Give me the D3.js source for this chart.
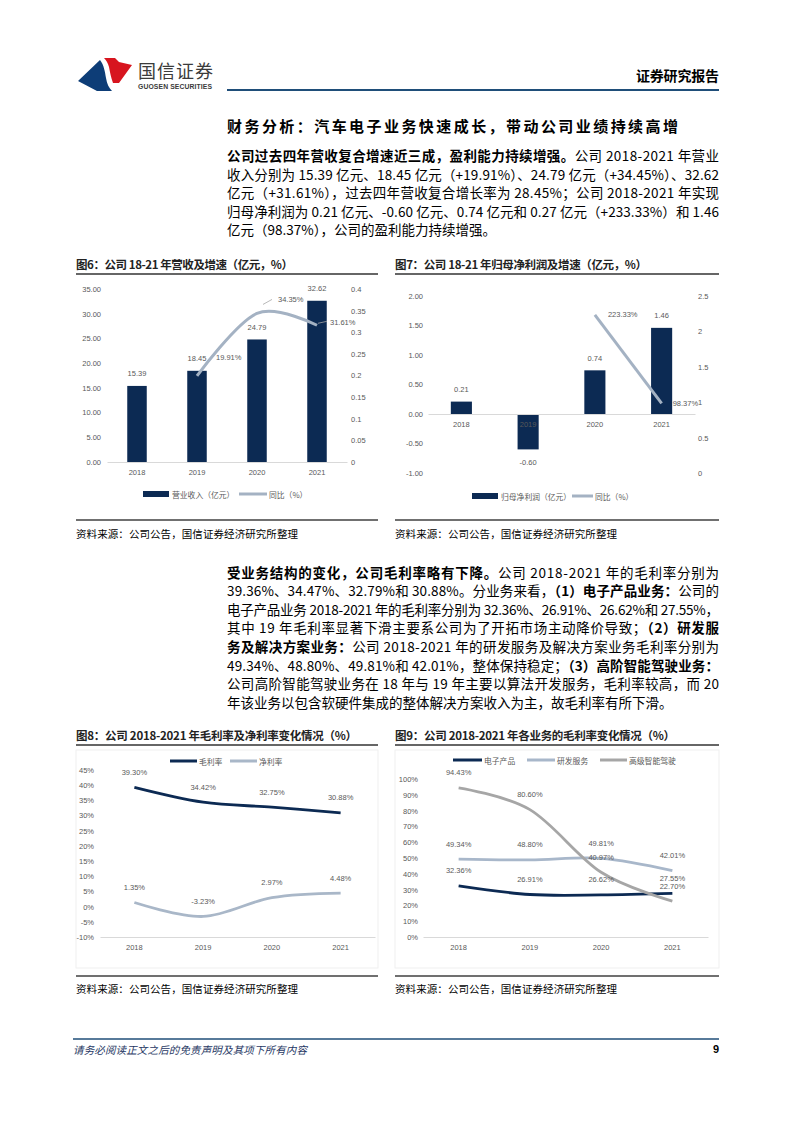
<!DOCTYPE html>
<html><head><meta charset="utf-8">
<script src="https://cdn.jsdelivr.net/npm/d3@7"></script>
<style>html,body{margin:0;padding:0;background:#fff}svg{display:block}</style>
</head><body>
<svg id="page" width="794" height="1123" xmlns="http://www.w3.org/2000/svg"></svg>
<script>
// ---------------- DATA ----------------
const years = ["2018", "2019", "2020", "2021"];
// Fig 6
const revenue = [15.39, 18.45, 24.79, 32.62];
const revenueYoY = [null, 0.1991, 0.3435, 0.3161];
const revenueYoYLabels = [null, "19.91%", "34.35%", "31.61%"];
const revTicksL = [0, 5, 10, 15, 20, 25, 30, 35];
const revTicksR = [0, 0.05, 0.1, 0.15, 0.2, 0.25, 0.3, 0.35, 0.4];
// Fig 7
const netProfit = [0.21, -0.60, 0.74, 1.46];
const netProfitYoY = [null, null, 2.2333, 0.9837];
const netProfitYoYLabels = [null, null, "223.33%", "98.37%"];
const npTicksL = [-1, -0.5, 0, 0.5, 1, 1.5, 2];
const npTicksR = [0, 0.5, 1, 1.5, 2, 2.5];
// Fig 8
const grossMargin = [39.30, 34.42, 32.75, 30.88];
const netMargin = [1.35, -3.23, 2.97, 4.48];
const marginTicks = [-10, -5, 0, 5, 10, 15, 20, 25, 30, 35, 40, 45];
// Fig 9
const segNames = ["电子产品", "研发服务", "高级智能驾驶"];
const segElectronic = [32.36, 26.91, 26.62, 27.55];
const segRD = [49.34, 48.80, 49.81, 42.01];
const segADAS = [94.43, 80.60, 40.97, 22.70];
const segTicks = [0, 10, 20, 30, 40, 50, 60, 70, 80, 90, 100];

// ---------------- STYLE ----------------
const CJK = "'Noto Sans CJK SC','Noto Sans',sans-serif";
const LAT = "'Liberation Sans',Arial,sans-serif";
const NAVY = "#0c2a53";
const GREYBLUE = "#a4b2c3";
const GREY = "#a6a6a6";
const LBL = "#595959";
const AXIS = "#d9d9d9";

const svg = d3.select("#page");

function txt(g, x, y, s, o = {}) {
  const t = g.append("text").attr("x", x).attr("y", y).text(s)
    .attr("dominant-baseline", "central")
    .attr("font-family", o.family || CJK)
    .attr("font-size", o.size || 12)
    .attr("fill", o.fill || "#000")
    .attr("text-anchor", o.anchor || "start");
  if (o.weight) t.attr("font-weight", o.weight);
  if (o.style) t.attr("font-style", o.style);
  if (o.len) t.attr("textLength", o.len).attr("lengthAdjust", "spacing");
  return t;
}
function hline(g, x1, x2, y, stroke, w) {
  g.append("line").attr("x1", x1).attr("x2", x2).attr("y1", y).attr("y2", y)
    .attr("stroke", stroke).attr("stroke-width", w);
}
function styleAxis(ax) {
  ax.attr("font-family", null).attr("font-size", null);
  ax.selectAll("text").attr("font-family", LAT).attr("font-size", 7.5).attr("fill", LBL);
}

// ---------------- HEADER ----------------
const hdr = svg.append("g");
hdr.append("path").attr("d", "M78,81 L100,60 C104,65 105,72 106,78 C107,84 109,88 112,91 L97,91 Z").attr("fill", "#0d3d77");
hdr.append("path").attr("d", "M104,58 L115,58 L119,62 L132,65 L119,83 L113,83 C111,78 110,72 109,67 C108,63 106,60 104,58 Z").attr("fill", "#d7151f");
txt(hdr, 138, 70, "国信证券", { size: 18, fill: "#3b3b3b", len: 75 });
txt(hdr, 138, 86, "GUOSEN SECURITIES", { family: LAT, size: 6.8, weight: 700, fill: "#3b3b3b", len: 74 });
hline(hdr, 227, 719, 90, "#1f4e79", 2);
txt(hdr, 719, 75, "证券研究报告", { size: 14, weight: 700, anchor: "end", len: 83 });

// ---------------- SECTION TITLE & PARAGRAPHS ----------------
txt(svg, 227, 125, "财务分析：汽车电子业务快速成长，带动公司业绩持续高增", { size: 15, weight: 700, len: 451 });

function paragraph(lines, y0, step) {
  lines.forEach((segs, i) => {
    const t = svg.append("text").attr("x", 227).attr("y", y0 + i * step)
      .attr("dominant-baseline", "central").attr("font-family", CJK)
      .attr("font-size", 13.5).attr("fill", "#000");
    segs.forEach(s => {
      const ts = t.append("tspan").text(s[0]);
      if (s[1]) ts.attr("font-weight", 700);
    });
    if (i < lines.length - 1) t.attr("textLength", 492).attr("lengthAdjust", "spacing");
  });
}
paragraph([
  [["公司过去四年营收复合增速近三成，盈利能力持续增强。", 1], ["公司 2018-2021 年营业", 0]],
  [["收入分别为 15.39 亿元、18.45 亿元（+19.91%）、24.79 亿元（+34.45%）、32.62", 0]],
  [["亿元（+31.61%），过去四年营收复合增长率为 28.45%；公司 2018-2021 年实现", 0]],
  [["归母净利润为 0.21 亿元、-0.60 亿元、0.74 亿元和 0.27 亿元（+233.33%）和 1.46", 0]],
  [["亿元（98.37%），公司的盈利能力持续增强。", 0]]
], 155, 18.6);

paragraph([
  [["受业务结构的变化，公司毛利率略有下降。", 1], ["公司 2018-2021 年的毛利率分别为", 0]],
  [["39.36%、34.47%、32.79%和 30.88%。分业务来看，", 0], ["（1）电子产品业务：", 1], ["公司的", 0]],
  [["电子产品业务 2018-2021 年的毛利率分别为 32.36%、26.91%、26.62%和 27.55%，", 0]],
  [["其中 19 年毛利率显著下滑主要系公司为了开拓市场主动降价导致；", 0], ["（2）研发服", 1]],
  [["务及解决方案业务：", 1], ["公司 2018-2021 年的研发服务及解决方案业务毛利率分别为", 0]],
  [["49.34%、48.80%、49.81%和 42.01%，整体保持稳定；", 0], ["（3）高阶智能驾驶业务：", 1]],
  [["公司高阶智能驾驶业务在 18 年与 19 年主要以算法开发服务，毛利率较高，而 20", 0]],
  [["年该业务以包含软硬件集成的整体解决方案收入为主，故毛利率有所下滑。", 0]]
], 571.5, 18.6);

// ---------------- CHART FRAME (title + source) ----------------
function frame(x1, x2, title, titleLen, yTitle, yBottom, ySource) {
  txt(svg, x1, yTitle, title, { size: 11.5, weight: 700, fill: "#222", len: titleLen });
  hline(svg, x1, x2, yTitle + 10, "#333", 1.3);
  hline(svg, x1, x2, yBottom, "#404040", 1.5);
  txt(svg, x1, ySource, "资料来源：公司公告，国信证券经济研究所整理", { size: 10.5, len: 222 });
}
frame(76, 378, "图6：公司 18-21 年营收及增速（亿元，%）", 217, 264, 520, 533);
frame(395, 719, "图7：公司 18-21 年归母净利润及增速（亿元，%）", 252, 264, 520, 533);
frame(76, 378, "图8：公司 2018-2021 年毛利率及净利率变化情况（%）", 281, 735, 976, 988);
frame(395, 719, "图9：公司 2018-2021 年各业务的毛利率变化情况（%）", 280, 735, 976, 988);

function legendRect(g, x, y, label) {
  g.append("rect").attr("x", x).attr("y", y - 3).attr("width", 26).attr("height", 6).attr("fill", NAVY);
  txt(g, x + 29, y, label, { size: 7.8, fill: LBL });
}
function legendLine(g, x, y, w, color, label) {
  g.append("line").attr("x1", x).attr("x2", x + w).attr("y1", y).attr("y2", y)
    .attr("stroke", color).attr("stroke-width", 3);
  txt(g, x + w + 2, y, label, { size: 7.8, fill: LBL });
}
const pctFmt = v => v.toFixed(2) + "%";
const numFmt = v => v.toFixed(2);

// ---------------- FIG 6 ----------------
(function () {
  const g = svg.append("g");
  const x = d3.scaleBand().domain(years).range([107, 347]).paddingInner(0.675).paddingOuter(0.3375);
  const yL = d3.scaleLinear().domain([0, 35]).range([462, 289]);
  const yR = d3.scaleLinear().domain([0, 0.4]).range([462, 289]);
  const cx = d => x(d) + x.bandwidth() / 2;

  const axL = g.append("g").attr("transform", "translate(107,0)")
    .call(d3.axisLeft(yL).tickValues(revTicksL).tickSize(0).tickPadding(6).tickFormat(numFmt));
  axL.select(".domain").remove(); styleAxis(axL);
  const axR = g.append("g").attr("transform", "translate(347,0)")
    .call(d3.axisRight(yR).tickValues(revTicksR).tickSize(0).tickPadding(4).tickFormat(d => String(+d.toFixed(2))));
  axR.select(".domain").remove(); styleAxis(axR);

  g.selectAll(".bar").data(revenue).join("rect")
    .attr("x", (d, i) => x(years[i])).attr("width", x.bandwidth())
    .attr("y", d => yL(d)).attr("height", d => yL(0) - yL(d)).attr("fill", NAVY);

  const axB = g.append("g").attr("transform", "translate(0,462)")
    .call(d3.axisBottom(x).tickSize(0).tickSizeOuter(0));
  axB.select(".domain").attr("stroke", AXIS).attr("stroke-width", 1);
  styleAxis(axB);
  axB.selectAll("text").attr("y", 10).attr("dy", "0.35em");

  g.selectAll(".bl").data(revenue).join("text")
    .attr("x", (d, i) => cx(years[i])).attr("y", d => yL(d) - 12)
    .attr("text-anchor", "middle").attr("dominant-baseline", "central")
    .attr("font-family", LAT).attr("font-size", 7.5).attr("fill", LBL).text(numFmt);

  const pts = years.map((yr, i) => [cx(yr), revenueYoY[i]]).filter(p => p[1] != null);
  g.append("path").attr("d", d3.line().x(p => p[0]).y(p => yR(p[1])).curve(d3.curveCardinal)(pts))
    .attr("fill", "none").attr("stroke", GREYBLUE).attr("stroke-width", 3);

  const lay = [null, { dx: 19, dy: -18 }, { dx: 21, dy: -14, ld: [6, -9, 15, -14] }, { dx: 13, dy: -3, ld: [1, -2, 10, -4] }];
  years.forEach((yr, i) => {
    if (revenueYoY[i] == null) return;
    const px = cx(yr), py = yR(revenueYoY[i]), L = lay[i];
    if (L.ld) g.append("line").attr("x1", px + L.ld[0]).attr("y1", py + L.ld[1]).attr("x2", px + L.ld[2]).attr("y2", py + L.ld[3])
      .attr("stroke", "#a6a6a6").attr("stroke-width", 0.8);
    txt(g, px + L.dx, py + L.dy, revenueYoYLabels[i], { family: LAT, size: 7.5, fill: LBL });
  });

  legendRect(g, 143, 494, "营业收入（亿元）");
  legendLine(g, 239, 494, 28, GREYBLUE, "同比（%）");
})();

// ---------------- FIG 7 ----------------
(function () {
  const g = svg.append("g");
  const x = d3.scaleBand().domain(years).range([428, 695]).paddingInner(0.684).paddingOuter(0.342);
  const yL = d3.scaleLinear().domain([-1, 2]).range([473, 296]);
  const yR = d3.scaleLinear().domain([0, 2.5]).range([473, 296]);
  const cx = d => x(d) + x.bandwidth() / 2;

  const axL = g.append("g").attr("transform", "translate(428,0)")
    .call(d3.axisLeft(yL).tickValues(npTicksL).tickSize(0).tickPadding(5).tickFormat(numFmt));
  axL.select(".domain").remove(); styleAxis(axL);
  const axR = g.append("g").attr("transform", "translate(695,0)")
    .call(d3.axisRight(yR).tickValues(npTicksR).tickSize(0).tickPadding(3).tickFormat(d => String(d)));
  axR.select(".domain").remove(); styleAxis(axR);

  g.selectAll(".bar").data(netProfit).join("rect")
    .attr("x", (d, i) => x(years[i])).attr("width", x.bandwidth())
    .attr("y", d => yL(Math.max(0, d))).attr("height", d => Math.abs(yL(d) - yL(0))).attr("fill", NAVY);

  const axB = g.append("g").attr("transform", `translate(0,${yL(0)})`)
    .call(d3.axisBottom(x).tickSize(0).tickSizeOuter(0));
  axB.select(".domain").attr("stroke", AXIS).attr("stroke-width", 1);
  styleAxis(axB);
  axB.selectAll("text").attr("y", 10).attr("dy", "0.35em");

  g.selectAll(".bl").data(netProfit).join("text")
    .attr("x", (d, i) => cx(years[i])).attr("y", d => d >= 0 ? yL(d) - 12 : yL(d) + 13)
    .attr("text-anchor", "middle").attr("dominant-baseline", "central")
    .attr("font-family", LAT).attr("font-size", 7.5).attr("fill", LBL).text(numFmt);

  const pts = years.map((yr, i) => [cx(yr), netProfitYoY[i]]).filter(p => p[1] != null);
  g.append("path").attr("d", d3.line().x(p => p[0]).y(p => yR(p[1]))(pts))
    .attr("fill", "none").attr("stroke", GREYBLUE).attr("stroke-width", 3);
  const lay = [null, null, { dx: 13, dy: 0 }, { dx: 11, dy: 0 }];
  years.forEach((yr, i) => {
    if (netProfitYoY[i] == null) return;
    txt(g, cx(yr) + lay[i].dx, yR(netProfitYoY[i]) + lay[i].dy, netProfitYoYLabels[i], { family: LAT, size: 7.5, fill: LBL });
  });

  legendRect(g, 472, 496, "归母净利润（亿元）");
  legendLine(g, 572, 496, 21, GREYBLUE, "同比（%）");
})();

// ---------------- LINE CHART HELPER ----------------
function lineChart(cfg) {
  const g = svg.append("g");
  g.append("rect").attr("x", cfg.box[0]).attr("y", cfg.box[1]).attr("width", cfg.box[2] - cfg.box[0])
    .attr("height", cfg.box[3] - cfg.box[1]).attr("fill", "none").attr("stroke", "#ececec").attr("stroke-width", 0.8);
  const x = d3.scaleBand().domain(years).range(cfg.xr);
  const y = d3.scaleLinear().domain(cfg.yd).range(cfg.yr);
  const cx = d => x(d) + x.bandwidth() / 2;
  const axL = g.append("g").attr("transform", `translate(${cfg.xr[0]},0)`)
    .call(d3.axisLeft(y).tickValues(cfg.ticks).tickSize(0).tickPadding(cfg.pad).tickFormat(d => d + "%"));
  axL.select(".domain").remove(); styleAxis(axL);
  const axB = g.append("g").attr("transform", `translate(0,${cfg.yr[0]})`)
    .call(d3.axisBottom(x).tickSize(0).tickSizeOuter(0));
  axB.select(".domain").attr("stroke", AXIS).attr("stroke-width", 1);
  styleAxis(axB);
  axB.selectAll("text").attr("y", 10).attr("dy", "0.35em");
  cfg.series.forEach(s => {
    g.append("path").attr("d", d3.line().x((v, i) => cx(years[i])).y(v => y(v)).curve(d3.curveCardinal)(s.values))
      .attr("fill", "none").attr("stroke", s.color).attr("stroke-width", 2.8);
  });
  cfg.series.forEach(s => {
    g.selectAll(null).data(s.values).join("text")
      .attr("x", (v, i) => cx(years[i])).attr("y", v => y(v) - 15)
      .attr("text-anchor", "middle").attr("dominant-baseline", "central")
      .attr("font-family", LAT).attr("font-size", 7.5).attr("fill", LBL).text(pctFmt);
  });
  cfg.legend.forEach(l => legendLine(g, l.x, cfg.ly, l.w, l.color, l.label));
}

// ---------------- FIG 8 ----------------
lineChart({
  box: [76, 750, 378, 968], xr: [100, 375], yd: [-10, 45], yr: [937, 770], ticks: marginTicks, pad: 6,
  series: [{ values: grossMargin, color: NAVY }, { values: netMargin, color: "#a9b7c8" }],
  ly: 761,
  legend: [{ x: 170, w: 27, color: NAVY, label: "毛利率" }, { x: 230, w: 27, color: "#a9b7c8", label: "净利率" }]
});

// ---------------- FIG 9 ----------------
lineChart({
  box: [395, 750, 719, 968], xr: [423, 708], yd: [0, 100], yr: [937, 779], ticks: segTicks, pad: 5,
  series: [{ values: segElectronic, color: NAVY }, { values: segRD, color: "#a8b7ca" }, { values: segADAS, color: GREY }],
  ly: 760,
  legend: [{ x: 453, w: 29, color: NAVY, label: segNames[0] }, { x: 527, w: 28, color: "#a8b7ca", label: segNames[1] },
           { x: 600, w: 27, color: GREY, label: segNames[2] }]
});

// ---------------- FOOTER ----------------
hline(svg, 73, 719, 1039, "#1f4e79", 1.5);
txt(svg, 73, 1049, "请务必阅读正文之后的免责声明及其项下所有内容", { size: 10.5, style: "italic", fill: "#1f3864", len: 234 });
txt(svg, 719, 1049, "9", { family: LAT, size: 11, weight: 700, anchor: "end" });
</script>
</body></html>
